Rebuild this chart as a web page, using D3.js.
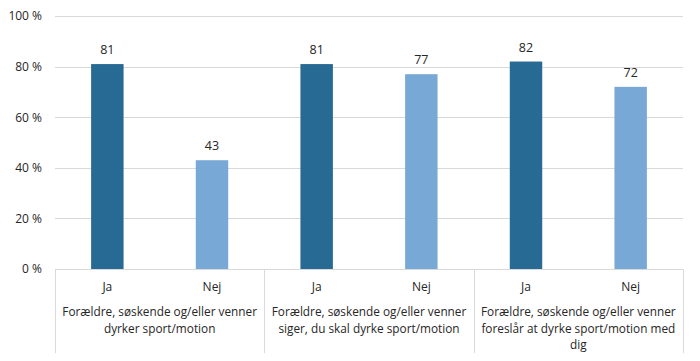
<!DOCTYPE html>
<html>
<head>
<meta charset="utf-8">
<script src="https://cdn.jsdelivr.net/npm/d3@7"></script>
<style>
  body { margin: 0; background: #fff; }
  text { font-family: "Open Sans", sans-serif; fill: #262626; }
</style>
</head>
<body>
<svg id="chart" width="700" height="361"></svg>
<script>
// chart data
var groups = [
  ['Forældre, søskende og/eller venner', 'dyrker sport/motion'],
  ['Forældre, søskende og/eller venner', 'siger, du skal dyrke sport/motion'],
  ['Forældre, søskende og/eller venner', 'foreslår at dyrke sport/motion med', 'dig']
];
var answers = ['Ja', 'Nej'];
var values = [81, 43, 81, 77, 82, 72];
var yTicks = [0, 20, 40, 60, 80, 100];

var colours = { Ja: '#276a93', Nej: '#78a9d6' };

var svg = d3.select('#chart'),
  plotLeft = 55,
  plotRight = 683,
  plotTop = 16,
  plotBottom = 269;

// build bar table from the arrays
var data = [];
groups.forEach(function(g, gi) {
  answers.forEach(function(a, ai) {
    data.push({ key: gi + '-' + a, group: gi, answer: a, val: values[gi * answers.length + ai] });
  });
});

var x = d3.scaleBand()
  .domain(data.map(function(d) { return d.key; }))
  .range([plotLeft, plotRight])
  .paddingInner(0.69)
  .paddingOuter(0.345);

var xGroup = d3.scaleBand()
  .domain(groups.map(function(g, i) { return i; }))
  .range([plotLeft, plotRight]);

var y = d3.scaleLinear()
  .domain([0, 100])
  .range([plotBottom, plotTop]);

// gridlines
svg.append('g')
  .selectAll('line')
  .data(yTicks.filter(function(t) { return t > 0; }))
  .enter()
  .append('line')
  .attr('x1', plotLeft)
  .attr('x2', plotRight)
  .attr('y1', function(d) { return Math.round(y(d)) + 0.5; })
  .attr('y2', function(d) { return Math.round(y(d)) + 0.5; })
  .attr('stroke', '#d9d9d9')
  .attr('stroke-width', 1);

// y axis labels
var yAxis = svg.append('g')
  .attr('transform', 'translate(' + plotLeft + ',0)')
  .call(d3.axisLeft(y).tickValues(yTicks).tickSize(0).tickPadding(13)
    .tickFormat(function(d) { return d + ' %'; }));
yAxis.select('.domain').remove();
yAxis.selectAll('text')
  .style('font-family', '"Open Sans", sans-serif')
  .style('font-size', '12px')
  .attr('fill', '#262626');

// bars
svg.append('g')
  .selectAll('rect')
  .data(data)
  .enter()
  .append('rect')
  .attr('x', function(d) { return x(d.key); })
  .attr('width', x.bandwidth())
  .attr('y', function(d) { return y(d.val); })
  .attr('height', function(d) { return y(0) - y(d.val); })
  .attr('fill', function(d) { return colours[d.answer]; });

// value labels
svg.append('g')
  .selectAll('text')
  .data(data)
  .enter()
  .append('text')
  .attr('x', function(d) { return x(d.key) + x.bandwidth() / 2; })
  .attr('y', function(d) { return y(d.val) - 10; })
  .attr('text-anchor', 'middle')
  .style('font-size', '12.5px')
  .text(function(d) { return d.val; });

// baseline and group dividers
svg.append('line')
  .attr('x1', plotLeft).attr('x2', plotRight)
  .attr('y1', plotBottom + 0.5).attr('y2', plotBottom + 0.5)
  .attr('stroke', '#d9d9d9');

var dividers = groups.map(function(g, i) { return xGroup(i); }).concat([plotRight]);
svg.append('g')
  .selectAll('line')
  .data(dividers)
  .enter()
  .append('line')
  .attr('x1', function(d) { return Math.round(d) + 0.5; })
  .attr('x2', function(d) { return Math.round(d) + 0.5; })
  .attr('y1', plotBottom)
  .attr('y2', 353)
  .attr('stroke', '#d9d9d9');

// Ja / Nej labels
svg.append('g')
  .selectAll('text')
  .data(data)
  .enter()
  .append('text')
  .attr('x', function(d) { return x(d.key) + x.bandwidth() / 2; })
  .attr('y', 291)
  .attr('text-anchor', 'middle')
  .style('font-size', '12px')
  .text(function(d) { return d.answer; });

// group labels
var gl = svg.append('g')
  .selectAll('text')
  .data(groups)
  .enter()
  .append('text')
  .attr('text-anchor', 'middle')
  .style('font-size', '11.8px');

gl.selectAll('tspan')
  .data(function(d, i) { return d.map(function(line) { return { line: line, gi: i }; }); })
  .enter()
  .append('tspan')
  .attr('x', function(d) { return xGroup(d.gi) + xGroup.bandwidth() / 2; })
  .attr('y', function(d, j) { return 316 + j * 16.5; })
  .text(function(d) { return d.line; });
</script>
</body>
</html>
